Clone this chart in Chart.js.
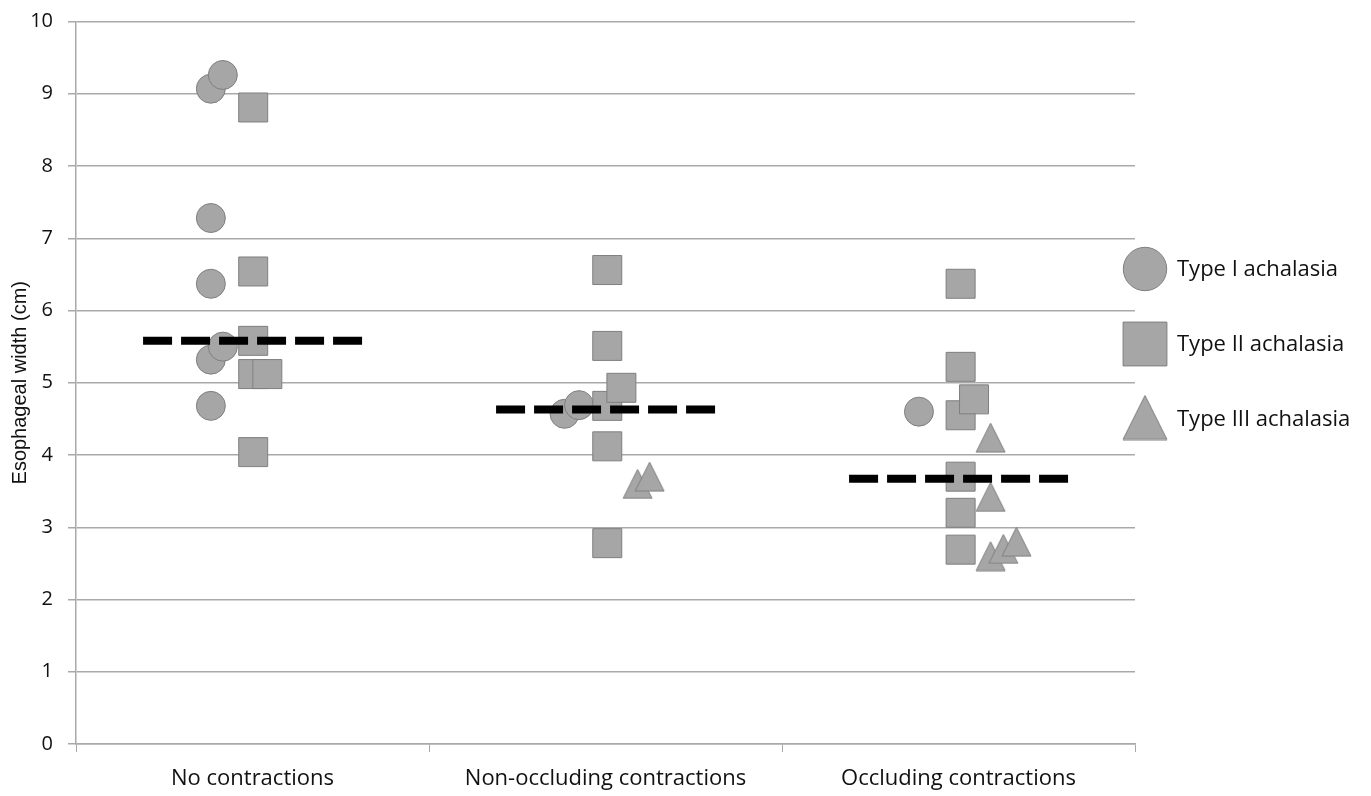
<!DOCTYPE html>
<html>
<head>
<meta charset="utf-8">
<script src="https://cdn.jsdelivr.net/npm/chart.js@4.4.1/dist/chart.umd.min.js"></script>
<style>
  html, body { margin: 0; padding: 0; background: #fff; }
  #wrap { width: 1371px; height: 796px; }
</style>
</head>
<body>
<div id="wrap"><canvas id="grafica_ancho"></canvas></div>
<script>
// categories on the x axis
const categories = ['No contractions', 'Non-occluding contractions', 'Occluding contractions'];
const yTicks = [0, 1, 2, 3, 4, 5, 6, 7, 8, 9, 10];

// Type I achalasia (circles): group index, jitter inside the group, width in cm
const typeIGroup  = [0, 0, 0, 0, 0, 0, 0, 1, 1, 2];
const typeIJitter = [-0.118, -0.118, -0.118, -0.118, -0.118, -0.084, -0.084, -0.116, -0.075, -0.112];
const typeIValues = [9.07, 7.28, 6.37, 5.32, 4.68, 9.26, 5.50, 4.57, 4.69, 4.60];

// Type II achalasia (squares)
const typeIIGroup  = [0, 0, 0, 0, 0, 0, 1, 1, 1, 1, 1, 1, 2, 2, 2, 2, 2, 2, 2];
const typeIIJitter = [0.002, 0.002, 0.002, 0.002, 0.002, 0.042,
                      0.005, 0.005, 0.005, 0.005, 0.005, 0.045,
                      0.006, 0.006, 0.006, 0.006, 0.006, 0.006, 0.044];
const typeIIValues = [8.81, 6.54, 5.58, 5.12, 4.04, 5.12,
                      6.56, 5.51, 4.68, 4.12, 2.78, 4.93,
                      6.37, 5.22, 4.55, 3.70, 3.20, 2.69, 4.77];

// Type III achalasia (triangles)
const typeIIIGroup  = [1, 1, 2, 2, 2, 2, 2];
const typeIIIJitter = [0.091, 0.125, 0.091, 0.091, 0.091, 0.127, 0.164];
const typeIIIValues = [3.60, 3.70, 4.24, 3.42, 2.60, 2.70, 2.80];

// median of each group (dashed lines)
const medians = [5.58, 4.63, 3.67];

const legendLabels = ['Type I achalasia', 'Type II achalasia', 'Type III achalasia'];

const fillGray = '#a6a6a6';
const edgeGray = '#7f7f7f';
const gridGray = '#a9a9a9';
const textColor = '#111';

function points(group, jitter, values) {
  return values.map((v, i) => ({ x: group[i] + 0.5 + jitter[i], y: v }));
}

// Excel style triangle (as tall as it is wide)
function makeTriangle(size) {
  const c = document.createElement('canvas');
  c.width = size + 2;
  c.height = size + 2;
  const t = c.getContext('2d');
  t.beginPath();
  t.moveTo(1 + size / 2, 1);
  t.lineTo(1 + size, 1 + size);
  t.lineTo(1, 1 + size);
  t.closePath();
  t.fillStyle = fillGray;
  t.fill();
  t.strokeStyle = edgeGray;
  t.lineWidth = 1;
  t.stroke();
  return c;
}
const triSmall = makeTriangle(29);
const triBig = makeTriangle(44);

const medianSets = medians.map((m, i) => ({
  type: 'line',
  label: 'median ' + categories[i],
  data: [{ x: i + 0.19, y: m }, { x: i + 0.815, y: m }],
  borderColor: '#000',
  borderWidth: 8,
  borderDash: [29, 9],
  borderCapStyle: 'butt',
  pointRadius: 0,
  order: 0
}));

const markerSets = [
  { label: legendLabels[0], data: points(typeIGroup, typeIJitter, typeIValues), pointStyle: 'circle', pointRadius: 14.5 },
  { label: legendLabels[1], data: points(typeIIGroup, typeIIJitter, typeIIValues), pointStyle: 'rect', pointRadius: 20.5 },
  { label: legendLabels[2], data: points(typeIIIGroup, typeIIIJitter, typeIIIValues), pointStyle: triSmall, pointRadius: 16 }
].map((d, i) => Object.assign(d, {
  type: 'scatter',
  backgroundColor: fillGray,
  borderColor: edgeGray,
  borderWidth: 1,
  pointHoverRadius: d.pointRadius,
  order: 3 - i
}));

// legend drawn on the right side, big markers like the original
const sideLegend = {
  id: 'sideLegend',
  afterDraw(chart) {
    const ctx = chart.ctx;
    const area = chart.chartArea;
    const styles = [
      { pointStyle: 'circle', radius: 21.7 },
      { pointStyle: 'rect', radius: 31 },
      { pointStyle: triBig, radius: 23 }
    ];
    ctx.save();
    legendLabels.forEach((txt, i) => {
      const x = area.right + 10;
      const y = 269 + i * 75;
      ctx.fillStyle = fillGray;
      ctx.strokeStyle = edgeGray;
      ctx.lineWidth = 1;
      Chart.helpers.drawPoint(ctx, { pointStyle: styles[i].pointStyle, radius: styles[i].radius, borderWidth: 1, rotation: 0 }, x, y - (i === 2 ? 1.5 : 0));
      ctx.fillStyle = textColor;
      ctx.font = '22px "Open Sans"';
      ctx.textBaseline = 'middle';
      ctx.textAlign = 'left';
      ctx.fillText(txt, x + 32, y + 1);
    });
    ctx.restore();
  }
};

const xTickValues = [];
categories.forEach((c, i) => { xTickValues.push(i, i + 0.5); });
xTickValues.push(categories.length);

new Chart(document.getElementById('grafica_ancho').getContext('2d'), {
  data: { datasets: [...medianSets, ...markerSets] },
  options: {
    responsive: true,
    maintainAspectRatio: false,
    animation: false,
    layout: { padding: { top: 19, right: 236, left: 0, bottom: 0 } },
    plugins: {
      legend: { display: false },
      tooltip: { enabled: false }
    },
    scales: {
      x: {
        type: 'linear',
        min: 0,
        max: categories.length,
        afterBuildTicks: s => { s.ticks = xTickValues.map(v => ({ value: v })); },
        afterFit: s => { s.height = 52; s.paddingLeft = 0; s.paddingRight = 0; },
        grid: {
          drawOnChartArea: false,
          drawTicks: true,
          tickLength: 8,
          tickColor: c => Number.isInteger(c.tick && c.tick.value) ? gridGray : 'rgba(0,0,0,0)'
        },
        border: { display: true, color: gridGray, width: 1.5 },
        ticks: {
          autoSkip: false,
          maxRotation: 0,
          padding: 14,
          color: textColor,
          font: { family: 'Open Sans', size: 22 },
          callback: v => Number.isInteger(v) ? '' : categories[Math.floor(v)]
        }
      },
      y: {
        min: 0,
        max: 10,
        afterBuildTicks: s => { s.ticks = yTicks.map(v => ({ value: v })); },
        afterFit: s => { s.width = 76; s.paddingTop = 0; s.paddingBottom = 0; },
        grid: { color: gridGray, lineWidth: 1.5, tickLength: 8 },
        border: { display: true, color: gridGray, width: 1.5 },
        ticks: {
          padding: 15,
          color: textColor,
          font: { family: 'Open Sans', size: 20 }
        },
        title: {
          display: true,
          text: 'Esophageal width (cm)',
          color: textColor,
          font: { family: 'Liberation Sans', size: 20 },
          padding: { top: 8, bottom: 0 }
        }
      }
    }
  },
  plugins: [sideLegend]
});
</script>
</body>
</html>
